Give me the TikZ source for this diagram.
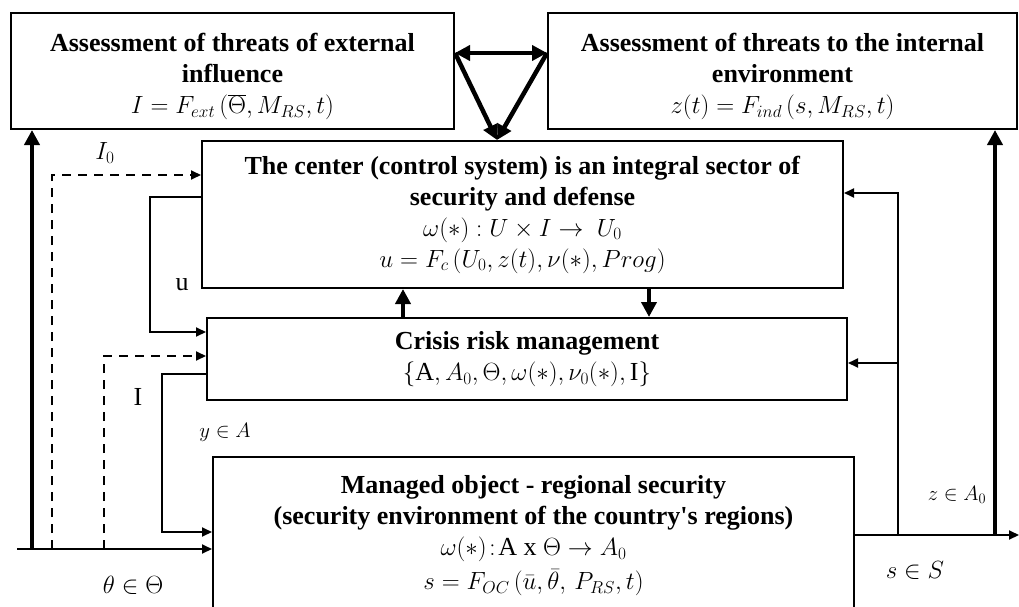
\documentclass[tikz,border=0pt]{standalone}
\usepackage{fontspec}
\setmainfont{Liberation Serif}
\usetikzlibrary{positioning, arrows.meta}

\begin{document}
\begin{tikzpicture}[
    x=1pt, y=-1pt,
    block/.style={
        draw,
        line width=2pt,
        align=center,
        inner sep=0pt,
        anchor=north west,
        font=\fontsize{26}{31}\selectfont
    },
    flow/.style={-{Triangle[length=10pt,width=9pt]}, line width=2pt},
    fat/.style={-{Triangle[length=15pt,width=15pt]}, line width=4.5pt},
    dashflow/.style={flow, dash pattern=on 9pt off 7pt},
    lbl/.style={font=\fontsize{26}{31}\selectfont},
    smalllbl/.style={font=\fontsize{21}{25}\selectfont}
]

\clip (0,0) rectangle (1019,607);

% === Threat assessment ===
\node[block, minimum width=443pt, minimum height=116pt] (ext) at (10,12) {
\rule{0pt}{29pt}\textbf{Assessment of threats of external}\\
\textbf{influence}\\
$I = F_{ext}\,(\overline{\Theta}, M_{RS}, t)$
};
\node[block, minimum width=469pt, minimum height=116pt] (int) at (547,12) {
\rule{0pt}{29pt}\textbf{Assessment of threats to the internal}\\
\textbf{environment}\\
$z(t) = F_{ind}\,(s, M_{RS}, t)$
};

% === Center ===
\node[block, minimum width=641pt, minimum height=147pt] (center) at (201,140) {
\textbf{The center (control system) is an integral sector of}\\
\textbf{security and defense}\\
$\omega(*) : U \times I \rightarrow\ U_0$\\
$u = F_c\,(U_0, z(t), \nu(*), Prog)$
};

% === Crisis ===
\node[block, minimum width=640pt, minimum height=82pt] (crisis) at (206,317) {
\textbf{Crisis risk management}\\
$\{\mathrm{A}, A_0, \Theta, \omega(*), \nu_0(*), \mathrm{I}\}$
};

% === Managed object ===
\node[block, minimum width=641pt, minimum height=158pt] (obj) at (212,456) {
\textbf{Managed object - regional security}\\
\textbf{(security environment of the country\textquotesingle s regions)}\\
$\omega(*)\!:\!\mathrm{A\ x}\ \Theta \rightarrow A_0$\\[3pt]
$s = F_{OC}\,(\bar{u}, \bar{\theta},\, P_{RS}, t)$
};

% === Labels ===
\node[lbl] (lio) at (105,153) {$I_0$};
\node[lbl] (lu) at (182,285) {u};
\node[lbl] (li) at (138,397) {I};
\node[smalllbl] (ly) at (225,432) {$y \in A$};
\node[lbl] (lth) at (133,585) {$\theta \in \Theta$};
\node[lbl] (ls) at (915,570) {$s \in S$};
\node[smalllbl] (lz) at (957,495) {$z \in A_0$};

% === Triangle between the assessments ===
\coordinate (tl) at ([yshift=-41pt]ext.north east);
\coordinate (tr) at ([yshift=-41pt]int.north west);
\coordinate (tb) at ([xshift=296pt]center.north west);
\draw[fat, {Triangle[length=15pt,width=15pt]}-{Triangle[length=15pt,width=15pt]}] (tl) -- (tr);
\draw[fat] (tl) -- (tb);
\draw[fat] (tr) -- (tb);

% === Left side ===
\coordinate (thin) at (17,549);
\coordinate (extup) at (32,549);
\coordinate (io) at (52,549);
\coordinate (iz) at (104,549);
\draw[flow] (thin) -- (thin -| obj.west);
\draw[fat] (extup) -- (extup |- ext.south);
\draw[dashflow] (io) |- ([yshift=-35pt]center.north west);
\draw[dashflow] (iz) |- ([yshift=-39pt]crisis.north west);
\draw[flow] ([yshift=-57pt]center.north west) -- ++(-51,0) |- ([yshift=-15pt]crisis.north west);
\draw[flow] ([yshift=-57pt]crisis.north west) -- ++(-44,0) |- ([yshift=-76pt]obj.north west);

% === Between center and crisis ===
\coordinate (dn) at (649,0);
\coordinate (up) at (403,0);
\draw[fat] (dn |- center.south) -- (dn |- crisis.north);
\draw[fat] (up |- crisis.north) -- (up |- center.south);

% === Right side ===
\coordinate (sout) at (1019,535);
\coordinate (zup) at (995,535);
\coordinate (fb) at (898,535);
\coordinate (crin) at ([yshift=-46pt]crisis.north east);
\draw[flow] (sout -| obj.east) -- (sout);
\draw[fat] (zup) -- (zup |- int.south);
\draw[flow] (fb) |- ([yshift=-53pt]center.north east);
\draw[flow] (fb |- crin) -- (crin);

\end{tikzpicture}
\end{document}
